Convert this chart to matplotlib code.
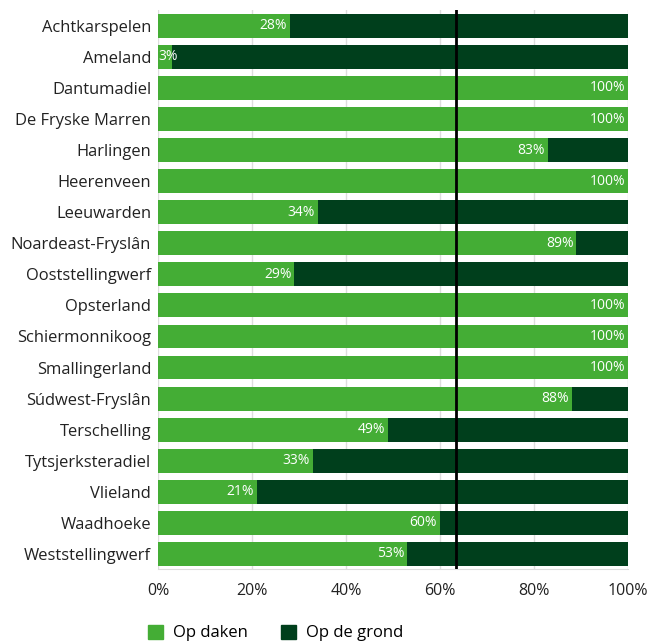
import matplotlib
matplotlib.use("Agg")
import matplotlib.pyplot as plt
from matplotlib.patches import Patch

plt.rcParams['font.family'] = ['Open Sans', 'DejaVu Sans']

categories = ["Achtkarspelen", "Ameland", "Dantumadiel", "De Fryske Marren", "Harlingen",
              "Heerenveen", "Leeuwarden", "Noardeast-Fryslân", "Ooststellingwerf", "Opsterland",
              "Schiermonnikoog", "Smallingerland", "Súdwest-Fryslân", "Terschelling",
              "Tytsjerksteradiel", "Vlieland", "Waadhoeke", "Weststellingwerf"]
op_daken = [28, 3, 100, 100, 83, 100, 34, 89, 29, 100, 100, 100, 88, 49, 33, 21, 60, 53]
op_de_grond = [100 - v for v in op_daken]
reference_line = 63.5
xticks = [0, 20, 40, 60, 80, 100]
xtick_labels = ["0%", "20%", "40%", "60%", "80%", "100%"]

light = "#44ad35"
dark = "#003f1c"

fig = plt.figure(figsize=(6.5, 6.42), dpi=100)
ax = fig.add_axes([0.243, 0.113, 0.723, 0.871])

y = list(range(len(categories)))
ax.barh(y, op_daken, height=0.77, color=light, zorder=2)
ax.barh(y, op_de_grond, left=op_daken, height=0.77, color=dark, zorder=2)

for yi, v in zip(y, op_daken):
    if v < 10:
        ax.text(0, yi, f"{v}%", color="white", ha="left", va="center", fontsize=10, zorder=4)
    else:
        ax.text(v - 0.6, yi, f"{v}%", color="white", ha="right", va="center", fontsize=10, zorder=4)

ax.axvline(reference_line, color="black", lw=2, zorder=5)

ax.set_ylim(len(categories) - 0.5, -0.5)
ax.set_xlim(0, 100)
ax.set_yticks(y)
ax.set_yticklabels(categories, fontsize=11.9, color="#222222")
ax.set_xticks(xticks)
ax.set_xticklabels(xtick_labels, fontsize=11.5, color="#222222")
ax.tick_params(axis='both', length=0)
ax.tick_params(axis='x', pad=10)
ax.tick_params(axis='y', pad=5)
ax.grid(axis='x', color="#dddddd", lw=1, zorder=0)
for s in ["top", "right", "left"]:
    ax.spines[s].set_visible(False)
ax.spines["bottom"].set_color("#dddddd")

handles = [Patch(color=light, label="Op daken"), Patch(color=dark, label="Op de grond")]
fig.legend(handles=handles, loc="center left", bbox_to_anchor=(0.205, 0.014), ncol=2,
           frameon=False, fontsize=12, handlelength=0.9, handleheight=0.9,
           columnspacing=2.0, handletextpad=0.6)

fig.savefig("out.png", dpi=100)
